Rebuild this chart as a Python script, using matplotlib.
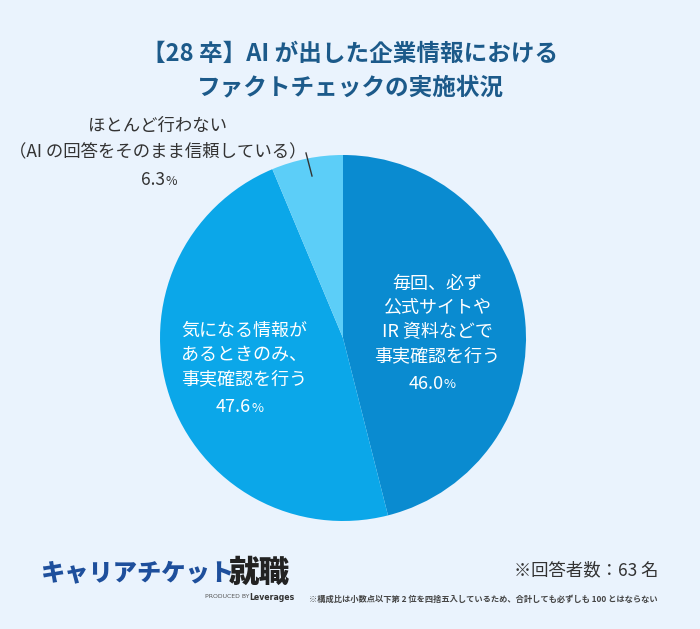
import matplotlib
matplotlib.use("Agg")
import matplotlib.pyplot as plt
import numpy as np

plt.rcParams['font.family'] = ['Noto Sans CJK JP', 'DejaVu Sans']

categories = ["毎回、必ず\n公式サイトや\nIR 資料などで\n事実確認を行う",
              "気になる情報が\nあるときのみ、\n事実確認を行う",
              "ほとんど行わない\n（AI の回答をそのまま信頼している）"]
values = [46.0, 47.6, 6.3]
colors = ["#0a8bd0", "#0ba7e9", "#5ccef8"]
bg = "#eaf3fd"

fig = plt.figure(figsize=(7, 6.29), dpi=100)
fig.patch.set_facecolor(bg)
W, H = 700, 629
cx, cy, r = 343, 338, 183
ax = fig.add_axes([(cx - r) / W, (H - cy - r) / H, 2 * r / W, 2 * r / H])
ax.set_facecolor(bg)
ax.pie(values, colors=colors, startangle=90, counterclock=False, radius=1.0,
       wedgeprops=dict(linewidth=0))
ax.set_xlim(-1, 1)
ax.set_ylim(-1, 1)
ax.set_aspect('auto')
ax.axis('off')

def fx(x):
    return x / W

def fy(y):
    return 1 - y / H

title_color = "#1c5a8a"
fig.text(fx(350), fy(54), "【28 卒】AI が出した企業情報における", ha='center', va='center',
         fontsize=17, fontweight='bold', color=title_color)
fig.text(fx(350), fy(87), "ファクトチェックの実施状況", ha='center', va='center',
         fontsize=17, fontweight='bold', color=title_color)

def label_block(x, y0, lines, pct, color, step=24, fs=12):
    for i, ln in enumerate(lines):
        fig.text(fx(x), fy(y0 + i * step), ln, ha='center', va='center', fontsize=fs, color=color)
    yp = y0 + len(lines) * step + 4
    fig.text(fx(x + 7), fy(yp), f"{pct:.1f}", ha='right', va='center', fontsize=fs, color=color)
    fig.text(fx(x + 7), fy(yp + 1), "%", ha='left', va='center', fontsize=fs * 0.72, color=color)

label_block(437, 284, categories[0].split("\n"), values[0], "white", step=24, fs=13)
label_block(244, 331, categories[1].split("\n"), values[1], "white", step=24, fs=13)
label_block(158, 126, categories[2].split("\n"), values[2], "#333333", step=25, fs=12.5)

# leader line
fig.add_artist(plt.Line2D([fx(306), fx(312)], [fy(153), fy(176)], color="#333333", lw=1))

# logo
fig.text(fx(40), fy(573), "キャリアチケット", ha='left', va='center', fontsize=17.5,
         fontweight='black', color="#1e4f9c")
fig.text(fx(229), fy(572), "就職", ha='left', va='center', fontsize=22,
         fontweight='black', color="#222222")
fig.text(fx(249), fy(597), "PRODUCED BY", ha='right', va='center', fontsize=4.4,
         color="#555555", family='DejaVu Sans')
fig.text(fx(295), fy(597), "Leverages", ha='right', va='center', fontsize=5.6,
         fontweight='bold', color="#333333", family='DejaVu Sans')

fig.text(fx(658), fy(570), "※回答者数：63 名", ha='right', va='center', fontsize=12.5, color="#333333")
fig.text(fx(658), fy(599), "※構成比は小数点以下第 2 位を四捨五入しているため、合計しても必ずしも 100 とはならない",
         ha='right', va='center', fontsize=5.95, color="#444444", fontweight='bold')

fig.savefig("out.png", dpi=100, facecolor=bg)
